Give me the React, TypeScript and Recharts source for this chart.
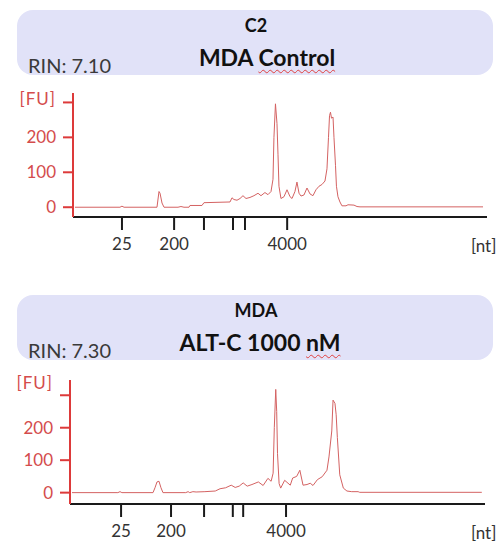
import { Line, LineChart, XAxis, YAxis } from 'recharts';

// Bioanalyzer electropherograms: migration time (s) vs fluorescence (FU)
const c2Time = [
  18.25, 23.9, 24.15, 24.41, 28.55, 28.8, 28.93, 29.18, 29.43, 31.19, 31.56, 31.94, 32.57, 32.69,
  34.2, 34.45, 37.72, 37.97, 38.22, 38.6, 38.98, 39.35, 39.73, 40.23, 40.73, 41.24, 41.61, 42.11,
  42.49, 42.87, 43.12, 43.24, 43.43, 43.62, 43.75, 43.87, 44.12, 44.5, 44.88, 45.26, 45.51, 45.88,
  46.13, 46.39, 46.64, 47.01, 47.39, 47.77, 48.14, 48.52, 48.9, 49.27, 49.65, 49.9, 50.09, 50.22,
  50.34, 50.47, 50.66, 50.78, 50.97, 51.09, 51.28, 51.53, 51.78, 52.29, 52.54, 53.29, 53.67,
  54.05, 69.5,
];
const c2Fu = [
  0, 0, 3, 0, 0, 45, 40, 12, 0, 0, 2, 0, 0, 5,
  5, 13, 15, 27, 22, 20, 25, 33, 25, 28, 33, 40, 33, 42,
  36, 45, 80, 200, 296, 240, 150, 60, 25, 30, 50, 30, 25, 45,
  72, 40, 32, 35, 55, 38, 33, 50, 60, 65, 75, 110, 200, 262,
  272, 255, 258, 200, 120, 60, 30, 15, 4, 4, 7, 6, 2,
  1, 1,
];

const altTime = [
  18.25, 24.0, 24.27, 24.5, 28.4, 28.65, 28.9, 29.15, 29.4, 29.65, 32.5, 32.8, 33.0, 33.4, 33.8,
  34.9, 36.2, 36.8, 37.5, 38.2, 38.7, 39.2, 39.7, 40.2, 40.8, 41.6, 42.2, 42.8, 43.2, 43.45,
  43.6, 43.78, 43.9, 44.0, 44.2, 44.4, 44.9, 45.6, 45.9, 46.4, 46.8, 47.2, 47.7, 48.1, 48.45,
  49.0, 49.6, 50.2, 50.45, 50.8, 50.96, 51.2, 51.35, 51.5, 51.8, 52.25, 52.7, 53.3, 54.1, 54.3,
  69.6,
];
const altFu = [
  0, 0, 3, 0, 0, 15, 33, 35, 15, 0, 0, 3, 0, 3, 2,
  3, 5, 12, 15, 23, 16, 20, 30, 20, 25, 33, 22, 44, 35, 60,
  200, 318, 250, 120, 28, 14, 38, 23, 45, 50, 69, 23, 25, 29, 22,
  40, 49, 69, 110, 190, 285, 275, 240, 170, 55, 14, 5, 3, 3, 1,
  1,
];

const ladderSizes = [25, 200, 500, 1000, 2000, 4000];
const labeledSizes = [25, 200, 4000];
const c2LadderTime = [24.15, 30.7, 34.45, 38.1, 39.6, 44.9];
const altLadderTime = [24.4, 30.66, 34.8, 38.4, 39.7, 45.07];
const fuTicks = [0, 100, 200, 300];

const FONT = 'Lato, "Open Sans", sans-serif';
const AXIS_RED = '#dd3a3a';
const LABEL_RED = '#d44c4c';
const TRACE = '#d46262';

function toRows(time: number[], fu: number[]) {
  return time.map((t, i) => ({ t, fu: fu[i] }));
}

function FuTick(props: any) {
  const { x, y, payload, fuDy } = props;
  const top = payload.value === 300;
  return (
    <text x={x} y={y + (top ? fuDy : 0)} dy="0.36em" textAnchor="end" fill={LABEL_RED}
      fontSize={17} fontFamily={FONT} letterSpacing={top ? 1 : 0}>
      {top ? '[FU]' : payload.value}
    </text>
  );
}

function SizeTick(props: any) {
  const { x, y, payload, ladder } = props;
  const size = ladderSizes[ladder.indexOf(payload.value)];
  if (!labeledSizes.includes(size)) return <g />;
  return (
    <text x={x} y={y} dy="0.71em" textAnchor="middle" fill="#333" fontSize={17} fontFamily={FONT}>
      {size}
    </text>
  );
}

type PanelProps = {
  top: number;
  boxTop: number;
  title: string;
  subtitle: string;
  underlined: string;
  rin: string;
  rows: { t: number; fu: number }[];
  ladder: number[];
  domainY: [number, number];
  left: number;
  right: number;
  fuDy: number;
  subCenter: number;
};

function Panel(p: PanelProps) {
  const head = p.subtitle.slice(0, p.subtitle.length - p.underlined.length);
  return (
    <>
      <div style={{ position: 'absolute', left: 17, top: p.boxTop, width: 476, height: 65,
        background: '#e1e2f8', borderRadius: 16 }} />
      <div style={{ position: 'absolute', left: 256, top: p.boxTop + 15, transform: 'translate(-50%, -50%)',
        fontFamily: FONT, fontWeight: 700, fontSize: 18, color: '#111', whiteSpace: 'nowrap' }}>
        {p.title}
      </div>
      <div style={{ position: 'absolute', left: p.subCenter, top: p.boxTop + 47, transform: 'translate(-50%, -50%)',
        fontFamily: FONT, fontWeight: 700, fontSize: 23, color: '#111', whiteSpace: 'nowrap' }}>
        {head}
        <span style={{ textDecoration: 'underline wavy #e04040', textDecorationThickness: 1,
          textUnderlineOffset: 3 }}>{p.underlined}</span>
      </div>
      <div style={{ position: 'absolute', left: 28, top: p.boxTop + 55, transform: 'translateY(-50%)',
        fontFamily: FONT, fontSize: 20, color: '#3a3a3a', whiteSpace: 'nowrap' }}>
        {p.rin}
      </div>
      <div style={{ position: 'absolute', left: 0, top: p.top - 13 }}>
        <LineChart width={500} height={177} data={p.rows}
          margin={{ top: 13, right: p.right, bottom: 0, left: p.left - 60 }}>
          <XAxis type="number" dataKey="t" domain={[18, 70]} ticks={p.ladder} interval={0}
            allowDataOverflow height={40} tickSize={13} tickMargin={8}
            axisLine={{ stroke: '#1a1a1a', strokeWidth: 2 }}
            tickLine={{ stroke: '#1a1a1a', strokeWidth: 2 }}
            tick={(tp: any) => <SizeTick {...tp} ladder={p.ladder} />} />
          <YAxis type="number" domain={p.domainY} ticks={fuTicks} interval={0} allowDataOverflow
            width={60} tickSize={10} tickMargin={7}
            axisLine={{ stroke: AXIS_RED, strokeWidth: 2 }}
            tickLine={{ stroke: AXIS_RED, strokeWidth: 2 }}
            tick={(tp: any) => <FuTick {...tp} fuDy={p.fuDy} />} />
          <Line type="linear" dataKey="fu" stroke={TRACE} strokeWidth={1} dot={false}
            isAnimationActive={false} />
        </LineChart>
      </div>
      <div style={{ position: 'absolute', left: 471, top: p.top + 152, transform: 'translateY(-50%)',
        fontFamily: FONT, fontSize: 17, color: '#333' }}>
        [nt]
      </div>
    </>
  );
}

export default function App() {
  return (
    <div style={{ position: 'absolute', left: 0, top: 0, width: 500, height: 544, background: '#fff',
      overflow: 'hidden' }}>
      <Panel top={93} boxTop={10} title="C2" subtitle="MDA Control" underlined="Control"
        rin="RIN: 7.10" rows={toRows(c2Time, c2Fu)} ladder={c2LadderTime} domainY={[-28, 327]}
        left={73} right={13} fuDy={-4} subCenter={267} />
      <Panel top={380} boxTop={295} title="MDA" subtitle="ALT-C 1000 nM" underlined="nM"
        rin="RIN: 7.30" rows={toRows(altTime, altFu)} ladder={altLadderTime} domainY={[-35, 347]}
        left={70} right={15} fuDy={-12} subCenter={260} />
    </div>
  );
}
